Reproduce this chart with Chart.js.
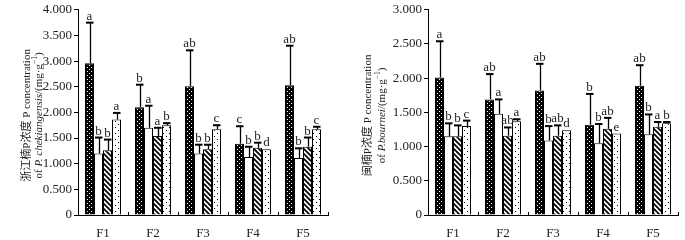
<!DOCTYPE html>
<html>
<head>
<meta charset="utf-8">
<script src="https://cdn.jsdelivr.net/npm/chart.js@4"></script>
<style>
  html, body { margin: 0; padding: 0; background: #fff; }
  #wrap { position: relative; width: 685px; height: 240px; }
  canvas { position: absolute; top: 0; }
</style>
</head>
<body>
<div id="wrap">
  <canvas id="chek_chart" width="340" height="240" style="left:0"></canvas>
  <canvas id="bour_chart" width="345" height="240" style="left:340px"></canvas>
</div>
<script>
const groups = ["F1", "F2", "F3", "F4", "F5"];

// P. chekiangensis : mean, upper error (sd), letters for 4 treatments
const chek_a = [2.96, 2.10, 2.51, 1.39, 2.53];
const chek_b = [1.20, 1.70, 1.20, 1.13, 1.11];
const chek_c = [1.26, 1.54, 1.28, 1.31, 1.33];
const chek_d = [1.86, 1.75, 1.67, 1.28, 1.67];
const chek_a_sd = [0.79, 0.44, 0.70, 0.34, 0.77];
const chek_b_sd = [0.31, 0.43, 0.17, 0.20, 0.19];
const chek_c_sd = [0.21, 0.16, 0.09, 0.10, 0.18];
const chek_d_sd = [0.13, 0.04, 0.08, 0, 0.05];
const chek_a_lab = ["a", "b", "ab", "c", "ab"];
const chek_b_lab = ["b", "a", "b", "b", "b"];
const chek_c_lab = ["b", "a", "b", "b", "b"];
const chek_d_lab = ["a", "b", "c", "d", "c"];
const chek_ticks = [0, 0.5, 1, 1.5, 2, 2.5, 3, 3.5, 4];

// P. bournei
const bour_a = [2.01, 1.69, 1.82, 1.32, 1.89];
const bour_b = [1.15, 1.48, 1.09, 1.05, 1.18];
const bour_c = [1.15, 1.16, 1.16, 1.26, 1.29];
const bour_d = [1.30, 1.37, 1.24, 1.19, 1.34];
const bour_a_sd = [0.53, 0.37, 0.39, 0.45, 0.30];
const bour_b_sd = [0.19, 0.21, 0.21, 0.28, 0.29];
const bour_c_sd = [0.16, 0.12, 0.15, 0.16, 0.07];
const bour_d_sd = [0.08, 0.03, 0, 0, 0.02];
const bour_a_lab = ["a", "ab", "ab", "b", "ab"];
const bour_b_lab = ["b", "a", "b", "b", "b"];
const bour_c_lab = ["b", "ab", "ab", "ab", "a"];
const bour_d_lab = ["c", "a", "d", "e", "b"];
const bour_ticks = [0, 0.5, 1, 1.5, 2, 2.5, 3];

const serif = "'Liberation Serif', 'Noto Sans CJK SC', serif";

// fill patterns
function makePattern(size, bg, draw) {
  const c = document.createElement("canvas");
  c.width = size;
  c.height = size;
  const g = c.getContext("2d");
  g.fillStyle = bg;
  g.fillRect(0, 0, size, size);
  draw(g);
  return g.createPattern(c, "repeat");
}
const blackDots = makePattern(4, "#000", (g) => {
  g.fillStyle = "#fff";
  g.fillRect(1, 1, 1, 1);
  g.fillRect(3, 3, 1, 1);
});
const plainWhite = "#fff";
const hatch = makePattern(5, "#fff", (g) => {
  g.strokeStyle = "#000";
  g.lineWidth = 1.8;
  g.beginPath();
  g.moveTo(-1, -1); g.lineTo(6, 6);
  g.moveTo(-1, 4); g.lineTo(1, 6);
  g.moveTo(4, -1); g.lineTo(6, 1);
  g.stroke();
});
const sparseDots = makePattern(6, "#fff", (g) => {
  g.fillStyle = "#000";
  g.fillRect(1, 1, 1, 1);
  g.fillRect(4, 4, 1, 1);
});
const fills = [blackDots, plainWhite, hatch, sparseDots];

// error bars, letters, x boundary ticks
const extras = {
  id: "extras",
  afterDatasetsDraw(chart) {
    const ctx = chart.ctx;
    const ys = chart.scales.y;
    const xs = chart.scales.x;
    ctx.save();
    chart.data.datasets.forEach((ds, i) => {
      const meta = chart.getDatasetMeta(i);
      meta.data.forEach((bar, j) => {
        let top = bar.y;
        const sd = ds.sd[j];
        if (sd > 0) {
          const yt = ys.getPixelForValue(ds.data[j] + sd);
          ctx.strokeStyle = "#000";
          ctx.lineWidth = 1.3;
          ctx.beginPath();
          ctx.moveTo(Math.round(bar.x) + 0.5, bar.y);
          ctx.lineTo(Math.round(bar.x) + 0.5, yt);
          ctx.stroke();
          ctx.lineWidth = 2;
          ctx.beginPath();
          ctx.moveTo(bar.x - 3.5, yt);
          ctx.lineTo(bar.x + 4, yt);
          ctx.stroke();
          top = yt;
        }
        ctx.fillStyle = "#222";
        ctx.font = "13px " + serif;
        ctx.textAlign = "center";
        ctx.textBaseline = "alphabetic";
        ctx.fillText(ds.letters[j], bar.x, top - 3);
      });
    });
    // small ticks between groups, pointing up
    ctx.strokeStyle = "#000";
    ctx.lineWidth = 1;
    for (let k = 1; k <= groups.length; k++) {
      const x = Math.round(xs.getPixelForValue(k - 0.5)) + 0.5;
      ctx.beginPath();
      ctx.moveTo(x, ys.bottom);
      ctx.lineTo(x, ys.bottom - 3);
      ctx.stroke();
    }
    ctx.restore();
  },
};

// rotated two line axis title, mixed fonts
function titlePlugin(line1, line2, x1, x2) {
  return {
    id: "ytitle",
    afterDraw(chart) {
      const ctx = chart.ctx;
      const cy = (chart.chartArea.top + chart.chartArea.bottom) / 2 + 3;
      const drawLine = (parts, x) => {
        ctx.save();
        ctx.translate(x, cy);
        ctx.rotate(-Math.PI / 2);
        ctx.fillStyle = "#222";
        ctx.textBaseline = "middle";
        ctx.textAlign = "left";
        let w = 0;
        parts.forEach((p) => {
          ctx.font = p.font;
          w += ctx.measureText(p.t).width;
        });
        let pos = -w / 2;
        parts.forEach((p) => {
          ctx.font = p.font;
          ctx.fillText(p.t, pos, p.dy || 0);
          pos += ctx.measureText(p.t).width;
        });
        ctx.restore();
      };
      drawLine(line1, x1);
      drawLine(line2, x2);
    },
  };
}

function buildChart(id, sets, yMax, ticks, yWidth, padRight, title) {
  const datasets = sets.map((s, i) => ({
    data: s.data,
    sd: s.sd,
    letters: s.letters,
    backgroundColor: fills[i],
    borderColor: "#000",
    borderWidth: 1,
    barPercentage: 1,
    categoryPercentage: 0.72,
  }));
  return new Chart(document.getElementById(id), {
    type: "bar",
    data: { labels: groups, datasets: datasets },
    plugins: [extras, title],
    options: {
      responsive: false,
      animation: false,
      layout: { padding: { top: 7, right: padRight, left: 0, bottom: 0 } },
      plugins: { legend: { display: false }, tooltip: { enabled: false } },
      scales: {
        x: {
          grid: { display: false },
          border: { display: true, color: "#000", width: 1 },
          ticks: { color: "#222", font: { family: serif, size: 13 }, padding: 3 },
          afterFit: (s) => { s.height = 25; },
        },
        y: {
          min: 0,
          max: yMax,
          afterBuildTicks: (s) => { s.ticks = ticks.map((v) => ({ value: v })); },
          grid: { drawOnChartArea: false, drawTicks: true, tickLength: 4, color: "#000" },
          border: { display: true, color: "#000", width: 1 },
          ticks: {
            color: "#222",
            padding: 2,
            font: { family: serif, size: 13 },
            callback: (v) => (v === 0 ? "0" : v.toFixed(3)),
          },
          afterFit: (s) => { s.width = yWidth; },
        },
      },
    },
  });
}

const f11 = "11px " + serif;
const f11i = "italic 11px " + serif;
const f8 = "7.5px " + serif;

buildChart(
  "chek_chart",
  [
    { data: chek_a, sd: chek_a_sd, letters: chek_a_lab },
    { data: chek_b, sd: chek_b_sd, letters: chek_b_lab },
    { data: chek_c, sd: chek_c_sd, letters: chek_c_lab },
    { data: chek_d, sd: chek_d_sd, letters: chek_d_lab },
  ],
  4, chek_ticks, 78, 12,
  titlePlugin(
    [{ t: "浙江楠P浓度 P concentration", font: f11 }],
    [
      { t: "of ", font: f11 },
      { t: "P. chekiangensis", font: f11i },
      { t: "/(mg·g", font: f11 },
      { t: "−1", font: f8, dy: -4 },
      { t: ")", font: f11 },
    ],
    27, 39
  )
);

buildChart(
  "bour_chart",
  [
    { data: bour_a, sd: bour_a_sd, letters: bour_a_lab },
    { data: bour_b, sd: bour_b_sd, letters: bour_b_lab },
    { data: bour_c, sd: bour_c_sd, letters: bour_c_lab },
    { data: bour_d, sd: bour_d_sd, letters: bour_d_lab },
  ],
  3, bour_ticks, 88, 7,
  titlePlugin(
    [{ t: "闽楠P浓度 P concentration", font: f11 }],
    [
      { t: "of ", font: f11 },
      { t: "P.bournei", font: f11i },
      { t: "/(mg·g", font: f11 },
      { t: "−1", font: f8, dy: -4 },
      { t: ")", font: f11 },
    ],
    28, 42
  )
);
</script>
</body>
</html>
